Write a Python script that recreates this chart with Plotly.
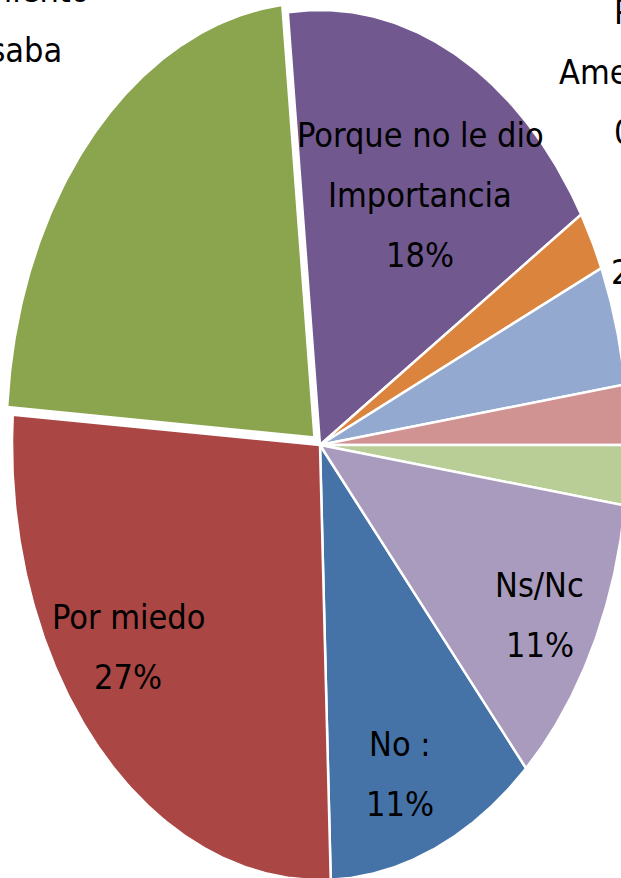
import math
import plotly.graph_objects as go

# Data (counts, N = 45) in Excel series order
categories = ["No :", "Por miedo", "Por desconocimiento<br>de lo que pasaba",
              "Porque no le dio<br>Importancia", "Por<br>Amenazas", "Otro A",
              "Otro B", "Otro C", "Otro D", "Ns/Nc"]
counts = [5, 12, 10, 8, 0, 1, 2, 1, 1, 5]
colors = ["#4572A7", "#AA4643", "#8AA54D", "#71588F", "#4198AF", "#DB843D",
          "#93A9CF", "#D19392", "#B9CD96", "#A99BBD"]
show_label = [True, True, True, True, True, True, False, False, False, True]
show_name = [True, True, True, True, True, False, False, False, False, True]

# layout / style parameters
start_angle = 138.0          # degrees clockwise from 12 o'clock
explode = [0, 0, 0.025, 0, 0, 0, 0, 0, 0, 0]
label_dangle = [3, 7.3, -8.29, 3.5, -7.7, 6.8, 0, 0, 0, 0.7]
label_radius = [0.80, 0.777, 1.5556, 0.66, 1.342, 1.10, 1.1, 1.1, 1.1, 0.814]
line_gap = 60
font_family = "DejaVu Sans Condensed, Liberation Sans Narrow, Liberation Sans"
font_size = 34

W, H = 621, 878
cx, cy, rx, ry = 320, 445, 308, 435
x0, x1 = (0 - cx) / rx, (W - cx) / rx
y0, y1 = (cy - H) / ry, cy / ry

total = sum(counts)
fig = go.Figure()
annotations = []
a0 = start_angle
for i, c in enumerate(counts):
    span = 360.0 * c / total
    a1 = a0 + span
    mid = (a0 + a1) / 2
    ox = explode[i] * math.sin(math.radians(mid))
    oy = explode[i] * math.cos(math.radians(mid))
    if span > 0:
        n = max(2, int(span * 2))
        xs = [ox]
        ys = [oy]
        for k in range(n + 1):
            t = math.radians(a0 + span * k / n)
            xs.append(ox + math.sin(t))
            ys.append(oy + math.cos(t))
        xs.append(ox)
        ys.append(oy)
        fig.add_trace(go.Scatter(x=xs, y=ys, mode="lines", fill="toself",
                                 fillcolor=colors[i],
                                 line=dict(color="white", width=2.5),
                                 hoverinfo="text",
                                 text=categories[i].replace("<br>", " "),
                                 showlegend=False))
    if show_label[i]:
        pct = f"{round(100 * c / total)}%"
        lines = (categories[i].split("<br>") + [pct]) if show_name[i] else [pct]
        la = math.radians(mid + label_dangle[i])
        lx = label_radius[i] * math.sin(la)
        ly = label_radius[i] * math.cos(la)
        px = (lx - x0) / (x1 - x0)
        py = (ly - y0) / (y1 - y0)
        nl = len(lines)
        for k, ln in enumerate(lines):
            annotations.append(dict(x=px, y=py, xref="paper", yref="paper",
                                    text=ln, showarrow=False,
                                    yshift=((nl - 1) / 2 - k) * line_gap,
                                    xanchor="center", yanchor="middle", align="center",
                                    font=dict(size=font_size, color="#000000",
                                              family=font_family)))
    a0 = a1

fig.update_layout(
    width=W, height=H,
    margin=dict(l=0, r=0, t=0, b=0),
    paper_bgcolor="white", plot_bgcolor="white",
    xaxis=dict(range=[x0, x1], visible=False, fixedrange=True),
    yaxis=dict(range=[y0, y1], visible=False, fixedrange=True),
    annotations=annotations,
    showlegend=False,
)
fig.write_html("out.html",
               config={"displayModeBar": False},
               post_script="document.body.style.margin='0';document.body.style.overflow='hidden';")
